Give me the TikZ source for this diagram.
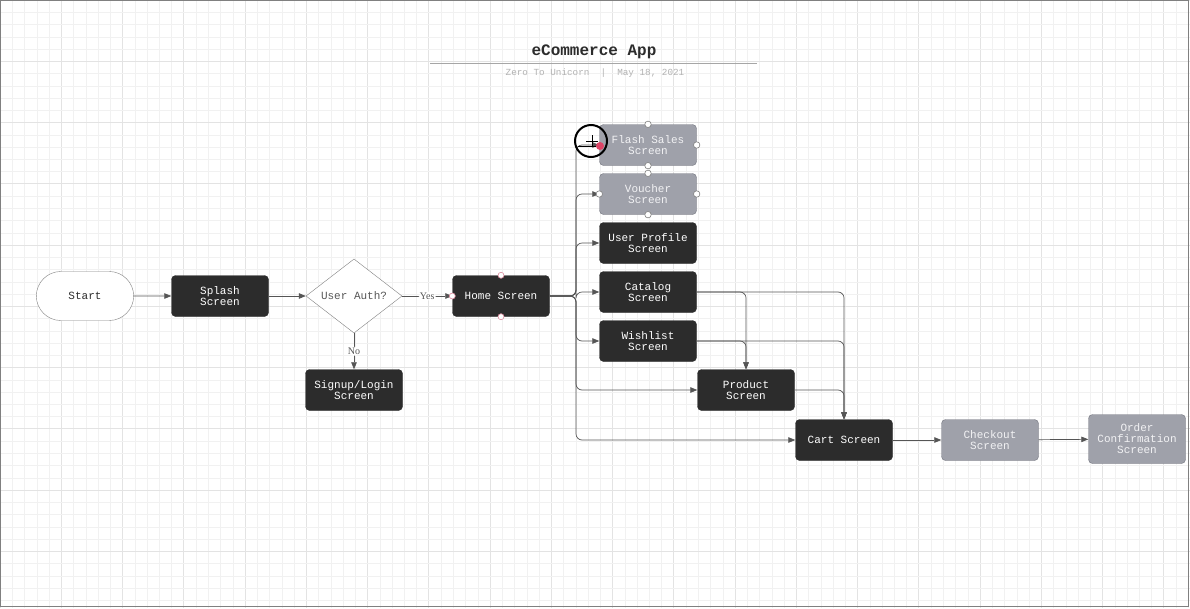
\documentclass[tikz,border=0pt]{standalone}
\usepackage{fontspec}
\setmainfont{Liberation Serif}
\setmonofont{Liberation Mono}
\usetikzlibrary{arrows.meta,shapes.geometric,shapes.misc,positioning}
\definecolor{boxdark}{HTML}{2C2C2C}
\definecolor{boxgray}{HTML}{9FA1AA}
\definecolor{grayedge}{HTML}{74767F}
\definecolor{graytext}{HTML}{F2F2F4}
\definecolor{linegray}{HTML}{555555}
\definecolor{gridminor}{HTML}{F1F1F1}
\definecolor{gridmajor}{HTML}{E3E3E3}
\definecolor{pinkhandle}{HTML}{D9889B}
\definecolor{cursorred}{HTML}{DD4466}

\tikzset{
  screen/.style={draw=boxdark, fill=boxdark, text=white, rounded corners=4pt,
    minimum width=97pt, minimum height=41pt, align=center, inner sep=2pt,
    font=\ttfamily\fontsize{11}{11}\selectfont},
  later/.style={screen, draw=grayedge, fill=boxgray, text=graytext},
  link/.style={draw=linegray, line width=0.7pt, rounded corners=6pt,
    -{Triangle[length=7pt,width=5.5pt]}},
  answer/.style={fill=white, inner sep=1pt, text=linegray,
    font=\rmfamily\fontsize{10}{10}\selectfont},
  handle/.style={draw=gray, fill=white, line width=0.6pt}
}

\begin{document}
\begin{tikzpicture}[x=1pt, y=-1pt]
    \useasboundingbox (0,0) rectangle (1190,608);

    % grid
    \fill[white] (0,0) rectangle (1190,608);
    \foreach \i in {0,...,97} {
        \pgfmathtruncatemacro{\major}{mod(\i,5)==0}
        \ifnum\major=1
            \draw[gridmajor, line width=0.6pt] (\i*12.25,0) -- (\i*12.25,608);
        \else
            \draw[gridminor, line width=0.5pt] (\i*12.25,0) -- (\i*12.25,608);
        \fi
    }
    \foreach \j in {0,...,49} {
        \pgfmathtruncatemacro{\major}{mod(\j,5)==0}
        \ifnum\major=1
            \draw[gridmajor, line width=0.6pt] (0,\j*12.25) -- (1190,\j*12.25);
        \else
            \draw[gridminor, line width=0.5pt] (0,\j*12.25) -- (1190,\j*12.25);
        \fi
    }
    \draw[gray, line width=1.5pt] (0.5,0.5) rectangle (1188.5,606.5);

    % title
    \node[font=\ttfamily\bfseries\fontsize{16}{16}\selectfont, text=boxdark] (title) at (594,52) {eCommerce App};
    \draw[gray!70, line width=1pt] (430,63) -- (757,63);
    \node[font=\ttfamily\fontsize{9.3}{9.3}\selectfont, text=gray!60] (subtitle) at (595,73) {Zero To Unicorn \ | \ May 18, 2021};

    % nodes
    \node[rounded rectangle, draw=gray, fill=white, minimum width=104pt, minimum height=49pt,
          font=\ttfamily\fontsize{11}{11}\selectfont, text=boxdark] (start) at (85,296) {Start};
    \node[screen] (splash) at (220,296) {Splash\\Screen};
    \node[diamond, draw=gray, fill=white, minimum width=96pt, minimum height=70pt, inner sep=0pt,
          font=\ttfamily\fontsize{11}{11}\selectfont, text=boxdark!80] (auth) at (354,296) {User Auth?};
    \node[screen] (home) at (501,296) {Home Screen};
    \node[screen] (signup) at (354,390) {Signup/Login\\Screen};

    \node[later] (flash) at (648,145) {Flash Sales\\Screen};
    \node[later] (voucher) at (648,194) {Voucher\\Screen};
    \node[screen] (profile) at (648,243) {User Profile\\Screen};
    \node[screen] (catalog) at (648,292) {Catalog\\Screen};
    \node[screen] (wishlist) at (648,341) {Wishlist\\Screen};
    \node[screen] (product) at (746,390) {Product\\Screen};
    \node[screen] (cart) at (844,440) {Cart Screen};
    \node[later] (checkout) at (990,440) {Checkout\\Screen};
    \node[later, minimum height=49pt] (confirm) at (1137,439) {Order\\Confirmation\\Screen};

    % connectors
    \coordinate (fork) at (576,296);
    \draw[link] (start) -- (splash);
    \draw[link] (splash) -- (auth);
    \draw[link] (auth.east) -- node[answer] {Yes} (home.west);
    \draw[link] (auth.south) -- node[answer] {No} (signup.north);
    \foreach \target in {flash, voucher, profile, catalog, wishlist, product, cart}
        \draw[link] (home.east) -| (fork |- \target.west) -- (\target.west);
    \draw[link] (catalog.east) -| (product.north);
    \draw[link] (wishlist.east) -| (product.north);
    \draw[link] (catalog.east) -| (cart.north);
    \draw[link] (wishlist.east) -| (cart.north);
    \draw[link] (product.east) -| (cart.north);
    \draw[link] (cart) -- (checkout);
    \draw[link] (checkout) -- (confirm);

    % selection handles
    \foreach \spot in {flash.north, flash.east, flash.south, voucher.north, voucher.west, voucher.east, voucher.south}
        \draw[handle] (\spot) circle (3.2pt);
    \foreach \spot in {home.north, home.south, home.west}
        \draw[handle, draw=pinkhandle] (\spot) circle (3pt);

    % cursor
    \fill[cursorred] (600,146) circle (4pt);
    \draw[line width=2pt] (591,141) circle (16pt);
    \draw[line width=0.6pt] (586,141) -- (598,141) (592,135) -- (592,147);
    \draw[line width=0.6pt] (578,146) -- (596,146);
\end{tikzpicture}
\end{document}
